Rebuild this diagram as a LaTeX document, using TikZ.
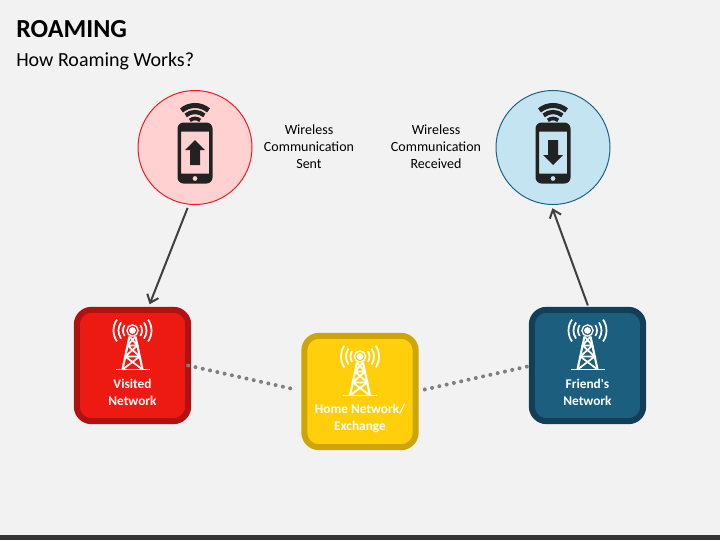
\documentclass[tikz,border=0pt]{standalone}
\usepackage{fontspec}
\setmainfont{Carlito}
\usetikzlibrary{shapes,arrows,arrows.meta,calc}
\definecolor{pagegray}{HTML}{F2F2F2}
\definecolor{bardark}{HTML}{333333}
\definecolor{icondark}{HTML}{222222}
\definecolor{linedark}{HTML}{404040}
\definecolor{dotgray}{HTML}{7F7F7F}
\definecolor{pinkfill}{HTML}{FFD1D1}
\definecolor{pinkedge}{HTML}{EE1C25}
\definecolor{skyfill}{HTML}{C5E4F2}
\definecolor{skyedge}{HTML}{1F6383}
\definecolor{redfill}{HTML}{EC1A13}
\definecolor{rededge}{HTML}{B01212}
\definecolor{yellowfill}{HTML}{FFCF0B}
\definecolor{yellowedge}{HTML}{CCA508}
\definecolor{bluefill}{HTML}{1B5E7E}
\definecolor{blueedge}{HTML}{123F55}
\tikzstyle{phonecircle} = [circle, draw, line width=0.75pt, minimum size=85.5pt, inner sep=0pt, outer sep=0pt]
\tikzstyle{netbox} = [rectangle, draw, line width=4.5pt, rounded corners=11pt, minimum size=83.5pt, inner sep=0pt, outer sep=0pt]
\tikzstyle{netlabel} = [text=white, font=\bfseries\fontsize{10}{12.75}\selectfont, align=center, node distance=20pt]
\tikzstyle{caption} = [text=black, font=\fontsize{10.5}{12.75}\selectfont, align=center]
\tikzstyle{line} = [draw, linedark, line width=1.5pt, -{Straight Barb[length=5.5pt,width=9pt]}]
\tikzstyle{dots} = [draw, dotgray, line width=3pt, line cap=round, dash pattern=on 0pt off 5.6pt]
\tikzset{
  tower/.pic={
    \draw [white, line width=1pt] (0,-35) circle (5.6);
    \fill [white] (0,-35) circle (3.4);
    \draw [white, line width=1.3pt] (-17,4) -- (17,4);
    \draw [white, line width=1.6pt] (-3,-29) -- (-10,4) (3,-29) -- (10,4);
    \draw [white, line width=1.3pt] (-4.9,-20) -- (4.9,-20) (-7.2,-9) -- (7.2,-9)
      (-3,-29) -- (4.9,-20) -- (-7.2,-9) -- (10,4)
      (3,-29) -- (-4.9,-20) -- (7.2,-9) -- (-10,4);
    \foreach \rad in {9.5,14,19} {
      \draw [white, line width=1.3pt] ([shift={(-35:\rad)}]0,-35) arc [start angle=-35, end angle=35, radius=\rad];
      \draw [white, line width=1.3pt] ([shift={(145:\rad)}]0,-35) arc [start angle=145, end angle=215, radius=\rad];
    }
  },
  phone/.pic={
    \fill [icondark, even odd rule, rounded corners=4.5pt] (-17.5,-30) rectangle (17.5,31)
      [sharp corners] (-14,-21) rectangle (14,21) (0,26) circle (2.5);
    \fill [icondark, yscale=#1] (0,-12.5) -- (10,-2.5) -- (5,-2.5) -- (5,12.5) -- (-5,12.5) -- (-5,-2.5) -- (-10,-2.5) -- cycle;
    \draw [icondark, line width=3.8pt] ([shift={(230:21)}]0,-26) arc [start angle=230, end angle=310, radius=21];
    \draw [icondark, line width=3.2pt] ([shift={(230:14.5)}]0,-26) arc [start angle=230, end angle=310, radius=14.5];
    \draw [icondark, line width=2.8pt] ([shift={(230:8)}]0,-26) arc [start angle=230, end angle=310, radius=8];
  }
}
\begin{document}
\begin{tikzpicture}[x=0.75pt, y=-0.75pt]
\useasboundingbox (0,0) rectangle (720,540);
\fill [pagegray] (0,0) rectangle (720,540);
\fill [bardark] (0,535) rectangle (720,540);

\node [anchor=west, inner sep=0pt, font=\bfseries\fontsize{19.5}{24}\selectfont] (title) at (16,29) {ROAMING};
\node [anchor=west, inner sep=0pt, font=\fontsize{15}{18}\selectfont] (subtitle) at (16,61) {How Roaming Works?};

\node [phonecircle, draw=pinkedge, fill=pinkfill] (sent) at (195,147.5) {};
\node [phonecircle, draw=skyedge, fill=skyfill] (received) at (553,147.5) {};
\pic at ($(sent)+(0,5)$) {phone=1};
\pic at ($(received)+(0,5)$) {phone=-1};
\node [caption] (senttxt) at (309,147) {Wireless\\Communication\\Sent};
\node [caption] (receivedtxt) at (436,147) {Wireless\\Communication\\Received};

\node [netbox, draw=rededge, fill=redfill] (visited) at (132.5,365.5) {};
\node [netbox, draw=yellowedge, fill=yellowfill] (home) at (360,391.5) {};
\node [netbox, draw=blueedge, fill=bluefill] (friend) at (587.5,365.5) {};
\pic at (visited) {tower};
\pic at (home) {tower};
\pic at (friend) {tower};
\node [netlabel, below of=visited] (visitedtxt) {Visited\\Network};
\node [netlabel, below of=home] (hometxt) {Home Network/\\Exchange};
\node [netlabel, below of=friend] (friendtxt) {Friend\textquotesingle s\\Network};

\path [line, shorten <=3pt, shorten >=4.5pt] (sent.-96.75) -- (visited.75.9);
\path [line, shorten <=3.5pt, shorten >=3pt] (friend.88) -- (received.-92);
\path [dots, shorten >=7pt] (visited.east) -- (home.west);
\path [dots, shorten <=7pt] (home.east) -- (friend.west);
\end{tikzpicture}
\end{document}
